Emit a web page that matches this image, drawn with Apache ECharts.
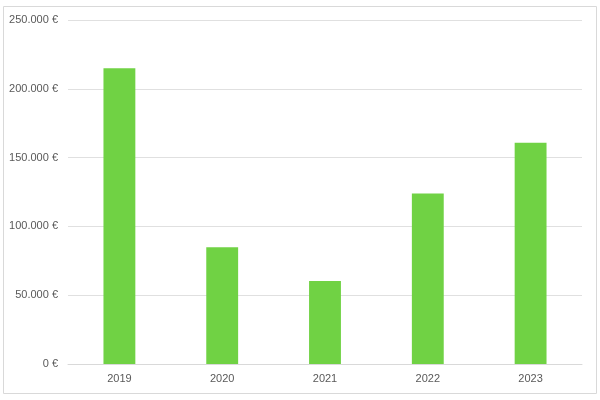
<!DOCTYPE html>
<html>
<head>
<meta charset="utf-8">
<script src="https://cdn.jsdelivr.net/npm/echarts@6/dist/echarts.min.js"></script>
<style>html,body{margin:0;padding:0;background:#fff}#c{width:600px;height:400px}</style>
</head>
<body>
<div id="c"></div>
<script>
const categories = ['2019', '2020', '2021', '2022', '2023'];
const revenue = [215000, 84800, 60300, 124000, 160800];
const yTicks = [0, 50000, 100000, 150000, 200000, 250000];

const chart = echarts.init(document.getElementById('c'), null, {renderer: 'canvas'});
const fmt = v => (v === 0 ? '0' : v.toLocaleString('de-DE')) + ' €';
chart.setOption({
  animation: false,
  textStyle: {fontFamily: 'Liberation Sans'},
  graphic: [{
    type: 'rect', shape: {x: 3.5, y: 6.5, width: 593, height: 387},
    style: {fill: 'none', stroke: '#d9d9d9', lineWidth: 1}, silent: true
  }],
  grid: {left: 68, right: 18, top: 20, bottom: 36, containLabel: false},
  xAxis: {
    type: 'category', data: categories,
    axisLine: {lineStyle: {color: '#d9d9d9'}},
    axisTick: {show: false},
    axisLabel: {color: '#595959', fontSize: 11, margin: 9}
  },
  yAxis: {
    type: 'value', min: yTicks[0], max: yTicks[yTicks.length - 1], interval: yTicks[1] - yTicks[0],
    axisLine: {show: false}, axisTick: {show: false},
    splitLine: {lineStyle: {color: '#e0e0e0'}},
    axisLabel: {color: '#595959', fontSize: 11, margin: 10, formatter: fmt}
  },
  series: [{
    type: 'bar', data: revenue, barWidth: '31%',
    itemStyle: {color: '#70d244'}
  }]
});
</script>
</body>
</html>
